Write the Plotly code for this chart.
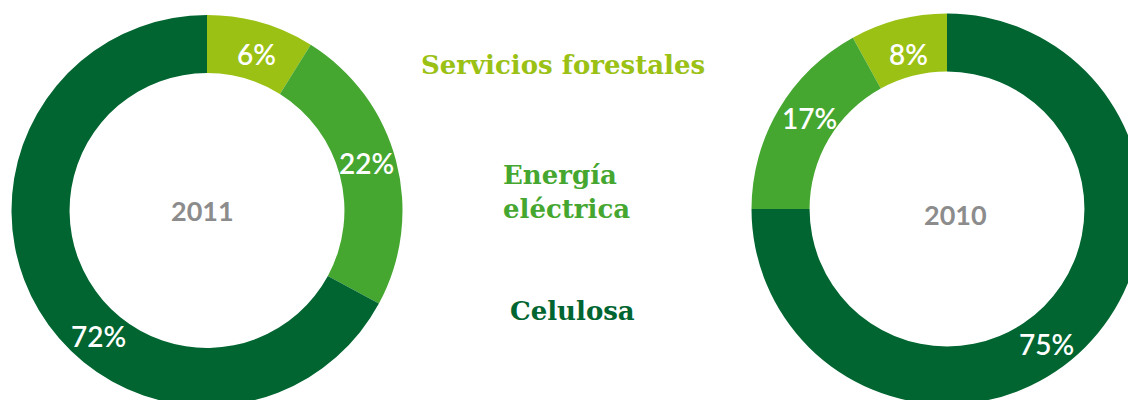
import plotly.graph_objects as go

# Segment names and colours (shared by both donuts)
segments = ["Servicios forestales", "Energía eléctrica", "Celulosa"]
seg_colors = ["#9AC114", "#45A730", "#006530"]

# 2011 – slice shares as drawn, and the printed labels
shares_2011 = [8.9, 24.0, 67.1]
labels_2011 = ["6%", "22%", "72%"]

# 2010
shares_2010 = [8, 17, 75]
labels_2010 = ["8%", "17%", "75%"]

W, H = 1150, 410  # slightly larger than the window: right donut gets cropped like the original


def px(x, y):
    return x / W, 1 - y / H


def domain(cx, cy, r):
    return dict(x=[(cx - r) / W, (cx + r) / W], y=[1 - (cy + r) / H, 1 - (cy - r) / H])


fig = go.Figure()

fig.add_trace(go.Pie(
    labels=segments, values=shares_2011, sort=False,
    direction="clockwise", rotation=0, hole=0.703,
    marker=dict(colors=seg_colors, line=dict(width=0)),
    textinfo="none", hoverinfo="label", showlegend=False,
    domain=domain(207, 210.5, 195.5),
))
# plotly puts the first counterclockwise slice *before* 12 o'clock, so shift it back
fig.add_trace(go.Pie(
    labels=segments, values=shares_2010, sort=False,
    direction="counterclockwise", rotation=-360 * shares_2010[0] / sum(shares_2010),
    hole=0.703,
    marker=dict(colors=seg_colors, line=dict(width=0)),
    textinfo="none", hoverinfo="label", showlegend=False,
    domain=domain(947, 209, 195.5),
))

PCT_FONT = dict(family="Lato, Open Sans, sans-serif", size=28, color="white", weight=600)
YEAR_FONT = dict(family="Lato, Open Sans, sans-serif", size=27, color="#8C8C8C", weight=700)
LEG_FONT = "DejaVu Serif, serif"


def label(txt, x, y, font, align="center"):
    ax, ay = px(x, y)
    fig.add_annotation(x=ax, y=ay, xref="paper", yref="paper", text=txt,
                       xanchor="center", yanchor="middle", align=align,
                       showarrow=False, font=font)


# percentage labels (pixel positions in the reference)
pct_pos_2011 = [(256, 54), (366, 163), (98, 336)]
pct_pos_2010 = [(908, 54), (809, 118), (1046, 344)]
for txt, (x, y) in list(zip(labels_2011, pct_pos_2011)) + list(zip(labels_2010, pct_pos_2010)):
    label(txt, x, y, PCT_FONT)

# year in the hole
label("2011", 202, 210, YEAR_FONT)
label("2010", 955, 214, YEAR_FONT)

# centre legend
LEG = dict(family=LEG_FONT, size=26, weight=700)
label("Servicios forestales", 563, 65, dict(LEG, color=seg_colors[0]))
label("Energía<br>eléctrica", 566, 192, dict(LEG, color=seg_colors[1]), align="left")
label("Celulosa", 572, 311, dict(LEG, color=seg_colors[2]))

fig.update_layout(
    width=W, height=H,
    margin=dict(l=0, r=0, t=0, b=0),
    paper_bgcolor="white", plot_bgcolor="white",
    showlegend=False,
)

fig.write_html(
    "out.html",
    config={"displayModeBar": False},
    post_script=(
        "document.body.style.margin='0';"
        "document.body.style.overflow='hidden';"
        "document.documentElement.style.overflow='hidden';"
    ),
)
